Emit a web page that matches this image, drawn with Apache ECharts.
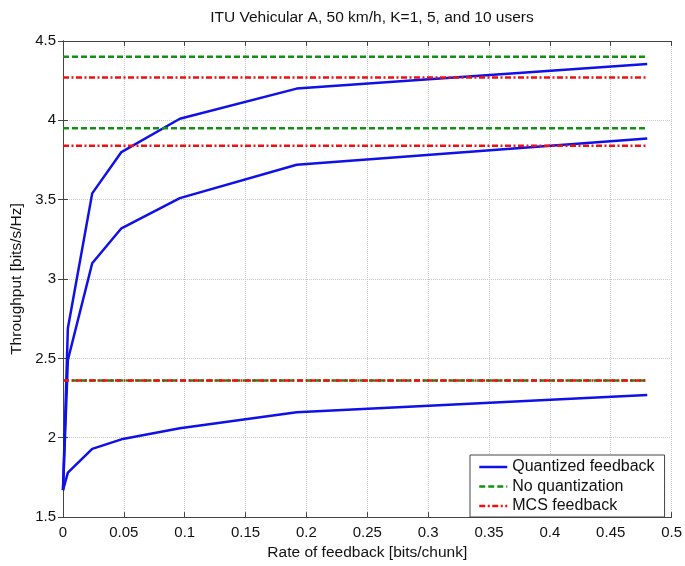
<!DOCTYPE html>
<html>
<head>
<meta charset="utf-8">
<script src="https://cdn.jsdelivr.net/npm/echarts@6/dist/echarts.min.js"></script>
<style>html,body{margin:0;padding:0;background:#fff;}#c{width:685px;height:566px;}</style>
</head>
<body>
<div id="c"></div>
<script>
// ---- data ----
const rates = [0, 0.004, 0.024, 0.048, 0.096, 0.192, 0.48];
const quantK10 = [1.67, 2.69, 3.54, 3.80, 4.01, 4.20, 4.355];
const quantK5 = [1.67, 2.49, 3.10, 3.32, 3.51, 3.72, 3.885];
const quantK1 = [1.67, 1.78, 1.93, 1.99, 2.06, 2.16, 2.27];
const noQuantLevels = [4.40, 3.95, 2.36];
const mcsLevels = [4.27, 3.84, 2.36];
const refRange = [0, 0.48];
const xTickLabels = ['0','0.05','0.1','0.15','0.2','0.25','0.3','0.35','0.4','0.45','0.5'];
const legendNames = ['Quantized feedback', 'No quantization', 'MCS feedback'];

const FONT = '"Liberation Sans", Arial, Helvetica, sans-serif';
const chart = echarts.init(document.getElementById('c'));

function curve(xs, ys) { return xs.map((x, i) => [x, ys[i]]); }
function level(v) { return refRange.map(x => [x, v]); }

const series = [];
[quantK1, quantK5, quantK10].forEach(ys => series.push({
  name: legendNames[0], type: 'line', data: curve(rates, ys), symbol: 'none', showSymbol: false,
  lineStyle: { color: '#1010e8', width: 2.5 }, itemStyle: { color: '#1010e8' }, z: 3, animation: false
}));
noQuantLevels.forEach(v => series.push({
  name: legendNames[1], type: 'line', data: level(v), symbol: 'none', showSymbol: false,
  lineStyle: { color: '#139013', width: 2.5, type: [6, 3] }, itemStyle: { color: '#139013' }, z: 4, animation: false
}));
mcsLevels.forEach(v => series.push({
  name: legendNames[2], type: 'line', data: level(v), symbol: 'none', showSymbol: false,
  lineStyle: { color: '#f01010', width: 2.5, type: [6, 2.5, 2, 2.5] }, itemStyle: { color: '#f01010' }, z: 5, animation: false
}));

const axisLineStyle = { show: true, lineStyle: { color: '#444', width: 1 } };
const tickStyle = { show: true, inside: true, length: 5, lineStyle: { color: '#444' } };

chart.setOption({
  animation: false,
  backgroundColor: '#fff',
  textStyle: { fontFamily: FONT },
  title: {
    text: 'ITU Vehicular A, 50 km/h, K=1, 5, and 10 users',
    left: 367, top: 5, textAlign: 'center',
    textStyle: { fontFamily: FONT, fontSize: 15.5, fontWeight: 'normal', color: '#111' }
  },
  grid: { left: 63, top: 41, width: 609, height: 482, containLabel: false },
  legend: {
    data: legendNames, orient: 'vertical', left: 470, top: 455,
    backgroundColor: '#fff', borderColor: '#444', borderWidth: 1,
    padding: [4, 10, 3, 8], itemGap: 3.5, itemWidth: 28, itemHeight: 14.5,
    itemStyle: { opacity: 0, borderWidth: 0 },
    lineStyle: { width: 2.5 },
    textStyle: { fontFamily: FONT, fontSize: 16, color: '#111' }
  },
  xAxis: [{
    type: 'value', min: 0, max: 0.5, interval: 0.05, position: 'bottom',
    name: 'Rate of feedback [bits/chunk]', nameLocation: 'middle', nameGap: 22,
    nameTextStyle: { fontFamily: FONT, fontSize: 15.5, color: '#111' },
    axisLine: axisLineStyle, axisTick: tickStyle,
    axisLabel: { fontFamily: FONT, fontSize: 15, color: '#111', margin: 8,
      formatter: v => xTickLabels[Math.round(v / 0.05)] },
    splitLine: { show: true, lineStyle: { color: '#c8c8c8', type: 'dotted', width: 1 } }
  }, {
    type: 'value', min: 0, max: 0.5, interval: 0.05, position: 'top',
    axisLine: axisLineStyle, axisTick: tickStyle, axisLabel: { show: false }, splitLine: { show: false }
  }],
  yAxis: [{
    type: 'value', min: 1.5, max: 4.5, interval: 0.5, position: 'left',
    name: 'Throughput [bits/s/Hz]', nameLocation: 'middle', nameGap: 33, nameRotate: 90,
    nameTextStyle: { fontFamily: FONT, fontSize: 15.5, color: '#111' },
    axisLine: axisLineStyle, axisTick: tickStyle,
    axisLabel: { fontFamily: FONT, fontSize: 15, color: '#111', margin: 7 },
    splitLine: { show: true, lineStyle: { color: '#c8c8c8', type: 'dotted', width: 1 } }
  }, {
    type: 'value', min: 1.5, max: 4.5, interval: 0.5, position: 'right',
    axisLine: axisLineStyle, axisTick: tickStyle, axisLabel: { show: false }, splitLine: { show: false }
  }],
  series: series
});
</script>
</body>
</html>
